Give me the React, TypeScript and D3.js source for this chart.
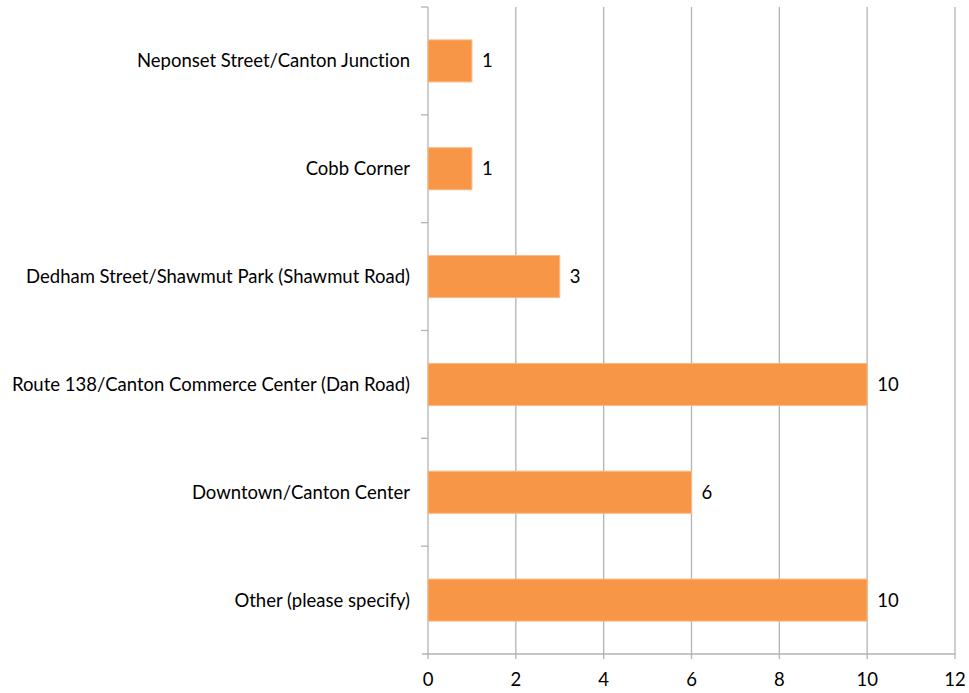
import React from "react";
import * as d3 from "d3";

const categories = [
  "Neponset Street/Canton Junction",
  "Cobb Corner",
  "Dedham Street/Shawmut Park (Shawmut Road)",
  "Route 138/Canton Commerce Center (Dan Road)",
  "Downtown/Canton Center",
  "Other (please specify)",
];
const values = [1, 1, 3, 10, 6, 10];
const xTicks = [0, 2, 4, 6, 8, 10, 12];

const W = 969;
const H = 693;
const M = { left: 428, right: 14, top: 7, bottom: 39 };
const FONT = "Lato, 'Open Sans', sans-serif";
const FS = 18.5;
const textStyle = { fontVariantLigatures: "none" as const };

export default function App() {
  const x = d3.scaleLinear().domain([0, 12]).range([M.left, W - M.right]);
  const y = d3.scaleBand<string>().domain(categories).range([M.top, H - M.bottom]).paddingInner(0.61).paddingOuter(0.305);
  const band = d3.scaleBand<string>().domain(categories).range([M.top, H - M.bottom]);
  const grid = "#b3b3b3";
  const bottom = H - M.bottom;
  return (
    <svg width={W} height={H} style={{ position: "absolute", left: 0, top: 0, background: "#fff" }}>
      {xTicks.map((t) => (
        <g key={t}>
          <line x1={x(t)} x2={x(t)} y1={M.top} y2={bottom + 5} stroke={grid} strokeWidth={1.3} />
          <text x={x(t)} y={bottom + 32} textAnchor="middle" fontFamily={FONT} fontSize={FS} fill="#000" style={textStyle}>
            {t}
          </text>
        </g>
      ))}
      <line x1={M.left - 6} x2={W - M.right} y1={bottom} y2={bottom} stroke={grid} strokeWidth={1.3} />
      {categories.map((c, i) => (
        <line key={"t" + i} x1={M.left - 7} x2={M.left} y1={band(c)!} y2={band(c)!} stroke={grid} strokeWidth={1.3} />
      ))}
      {categories.map((c, i) => (
        <g key={c}>
          <rect
            x={x(0)}
            y={y(c)!}
            width={x(values[i]) - x(0)}
            height={y.bandwidth()}
            fill="#f79646"
            stroke="#fbb987"
            strokeWidth={1}
          />
          <text
            x={x(values[i]) + 10}
            y={y(c)! + y.bandwidth() / 2}
            dy="0.35em"
            fontFamily={FONT}
            fontSize={FS}
            fill="#000"
            style={textStyle}
          >
            {values[i]}
          </text>
          <text
            x={M.left - 18}
            y={band(c)! + band.bandwidth() / 2}
            dy="0.35em"
            textAnchor="end"
            fontFamily={FONT}
            fontSize={FS}
            fill="#000"
            style={textStyle}
          >
            {c}
          </text>
        </g>
      ))}
    </svg>
  );
}
